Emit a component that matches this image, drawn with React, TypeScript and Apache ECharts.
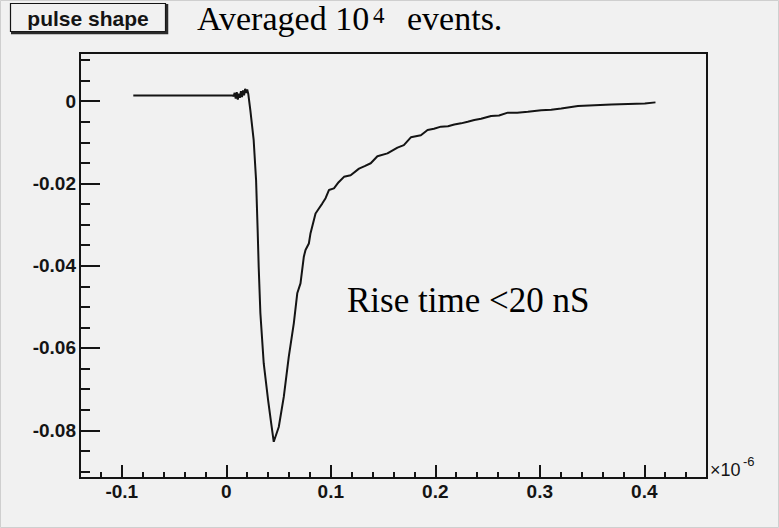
import React, { useEffect, useRef } from "react";
import * as echarts from "echarts";

// time (units of 1e-6 s) and amplitude of the averaged pulse
const timeValues = [
  -0.089, -0.05, 0.0, 0.006, 0.007, 0.008, 0.009, 0.010, 0.011, 0.012, 0.013, 0.014,
  0.015, 0.016, 0.017, 0.018, 0.019, 0.020, 0.021, 0.023, 0.0262, 0.0285, 0.030,
  0.031, 0.0326, 0.0358, 0.040, 0.0429, 0.0454, 0.0502, 0.055, 0.0598, 0.0646,
  0.0679, 0.071, 0.0742, 0.0758, 0.079, 0.0806, 0.0854, 0.0886, 0.0918, 0.095,
  0.0982, 0.103, 0.1075, 0.1126, 0.119, 0.127, 0.1324, 0.1382, 0.1446, 0.1542,
  0.1638, 0.1699, 0.1766, 0.1862, 0.1926, 0.1987, 0.2054, 0.2121, 0.2182, 0.2246,
  0.231, 0.2373, 0.2438, 0.2534, 0.261, 0.2694, 0.2783, 0.2886, 0.3013, 0.3109,
  0.3205, 0.3365, 0.3525, 0.3685, 0.3845, 0.4005, 0.4107,
];
const amplitudeValues = [
  0.0014, 0.0014, 0.0014, 0.0014, 0.0012, 0.002, 0.0006, 0.0022, 0.0004, 0.0018,
  0.0008, 0.0024, 0.001, 0.0026, 0.0014, 0.003, 0.002, 0.0028, 0.0018, -0.0022,
  -0.0095, -0.0192, -0.0313, -0.0403, -0.0515, -0.0637, -0.0727, -0.0782, -0.0828,
  -0.0792, -0.0719, -0.0621, -0.054, -0.0467, -0.0443, -0.0378, -0.0362, -0.0346,
  -0.0321, -0.0273, -0.0261, -0.0249, -0.0236, -0.0216, -0.0212, -0.0197, -0.0184,
  -0.018, -0.0164, -0.0158, -0.0151, -0.0134, -0.0127, -0.0113, -0.0107, -0.0088,
  -0.0083, -0.007, -0.0067, -0.0062, -0.0061, -0.0057, -0.0054, -0.005, -0.0046,
  -0.0043, -0.0036, -0.0035, -0.0028, -0.0028, -0.0026, -0.0022, -0.0021, -0.0018,
  -0.0012, -0.001, -0.0008, -0.0007, -0.0006, -0.0003,
];

const xMajorTicks = [-0.1, 0, 0.1, 0.2, 0.3, 0.4];
const xMinorTicks = [
  -0.12, -0.08, -0.06, -0.04, -0.02, 0.02, 0.04, 0.06, 0.08, 0.12, 0.14, 0.16, 0.18,
  0.22, 0.24, 0.26, 0.28, 0.32, 0.34, 0.36, 0.38, 0.42, 0.44,
];
const yMajorTicks = [0, -0.02, -0.04, -0.06, -0.08];
const yMinorTicks = [
  0.01, 0.005, -0.005, -0.01, -0.015, -0.025, -0.03, -0.035, -0.045, -0.05, -0.055,
  -0.065, -0.07, -0.075, -0.085, -0.09,
];
const xRange = [-0.14, 0.46];
const yRange = [-0.0916, 0.0117];

const titleBoxText = "pulse shape";
const titleParts = ["Averaged 10", "4", "events."];
const annotationText = "Rise time <20 nS";
const exponentParts = ["\u00d710", "-6"];

const BG = "#f1f1f1";
const INK = "#141414";
const SANS = "Liberation Sans";
const SERIF = "Liberation Serif";

function txt(
  text: string,
  x: number,
  y: number,
  size: number,
  family: string,
  weight: string = "normal",
  align: string = "left",
  color: string = "#000"
) {
  return {
    type: "text",
    x,
    y,
    style: {
      text,
      fill: color,
      fontSize: size,
      fontFamily: family,
      fontWeight: weight,
      align,
      verticalAlign: "middle",
    },
  };
}

export default function App() {
  const ref = useRef<HTMLDivElement>(null);

  useEffect(() => {
    if (!ref.current) return;
    const chart = echarts.init(ref.current, undefined, { renderer: "svg" });
    const data = timeValues.map((t, i) => [t, amplitudeValues[i]]);

    const tickStyle = { color: INK, width: 2 };
    const mainLine = { show: true, onZero: false, lineStyle: { color: INK, width: 2 } };
    const noLine = { show: false, onZero: false };
    const labelStyle = {
      color: INK,
      fontFamily: SANS,
      fontWeight: "bold",
      fontSize: 19,
    };

    chart.setOption({
      animation: false,
      backgroundColor: BG,
      grid: {
        left: 80,
        top: 53,
        right: 72,
        bottom: 50,
        show: true,
        borderColor: INK,
        borderWidth: 2,
        backgroundColor: "transparent",
      },
      xAxis: [
        {
          type: "value",
          position: "bottom",
          min: xRange[0],
          max: xRange[1],
          splitLine: { show: false },
          axisLine: mainLine,
          axisTick: {
            show: true,
            inside: true,
            length: 13,
            customValues: xMajorTicks,
            lineStyle: tickStyle,
          },
          axisLabel: { show: true, customValues: xMajorTicks, margin: 4, ...labelStyle },
        },
        {
          type: "value",
          position: "bottom",
          min: xRange[0],
          max: xRange[1],
          splitLine: { show: false },
          axisLine: noLine,
          axisTick: {
            show: true,
            inside: true,
            length: 6,
            customValues: xMinorTicks,
            lineStyle: tickStyle,
          },
          axisLabel: { show: false },
        },
      ],
      yAxis: [
        {
          type: "value",
          position: "left",
          min: yRange[0],
          max: yRange[1],
          splitLine: { show: false },
          axisLine: mainLine,
          axisTick: {
            show: true,
            inside: true,
            length: 20,
            customValues: yMajorTicks,
            lineStyle: tickStyle,
          },
          axisLabel: { show: true, customValues: yMajorTicks, margin: 4, ...labelStyle },
        },
        {
          type: "value",
          position: "left",
          min: yRange[0],
          max: yRange[1],
          splitLine: { show: false },
          axisLine: noLine,
          axisTick: {
            show: true,
            inside: true,
            length: 10,
            customValues: yMinorTicks,
            lineStyle: tickStyle,
          },
          axisLabel: { show: false },
        },
      ],
      series: [
        {
          type: "line",
          xAxisIndex: 0,
          yAxisIndex: 0,
          data,
          showSymbol: false,
          symbol: "none",
          lineStyle: { color: INK, width: 2 },
          z: 3,
        },
      ],
      graphic: [
        {
          type: "rect",
          shape: { x: 0.5, y: 0.5, width: 778, height: 527 },
          style: { fill: "none", stroke: "#cfcfcf", lineWidth: 1 },
          silent: true,
        },
        {
          type: "rect",
          shape: { x: 10.5, y: 3.5, width: 155, height: 28 },
          style: { fill: BG, stroke: INK, lineWidth: 1.2 },
        },
        {
          type: "polyline",
          shape: { points: [[167, 4], [167, 33], [11, 33]] },
          style: { fill: "none", stroke: "#2a2a2a", lineWidth: 2.5 },
        },
        txt(titleBoxText, 88, 18, 21, SANS, "bold", "center", INK),
        txt(titleParts[0], 197, 18, 34, SERIF),
        txt(titleParts[1], 373, 15, 23, SERIF),
        txt(titleParts[2], 407, 18, 34, SERIF),
        txt(annotationText, 347, 300, 35, SERIF),
        txt(exponentParts[0], 710, 470, 18, SANS, "normal", "left", INK),
        txt(exponentParts[1], 743, 461, 13, SANS, "normal", "left", INK),
      ],
    });

    return () => chart.dispose();
  }, []);

  return (
    <div
      ref={ref}
      style={{ position: "fixed", left: 0, top: 0, width: 779, height: 528 }}
    />
  );
}
